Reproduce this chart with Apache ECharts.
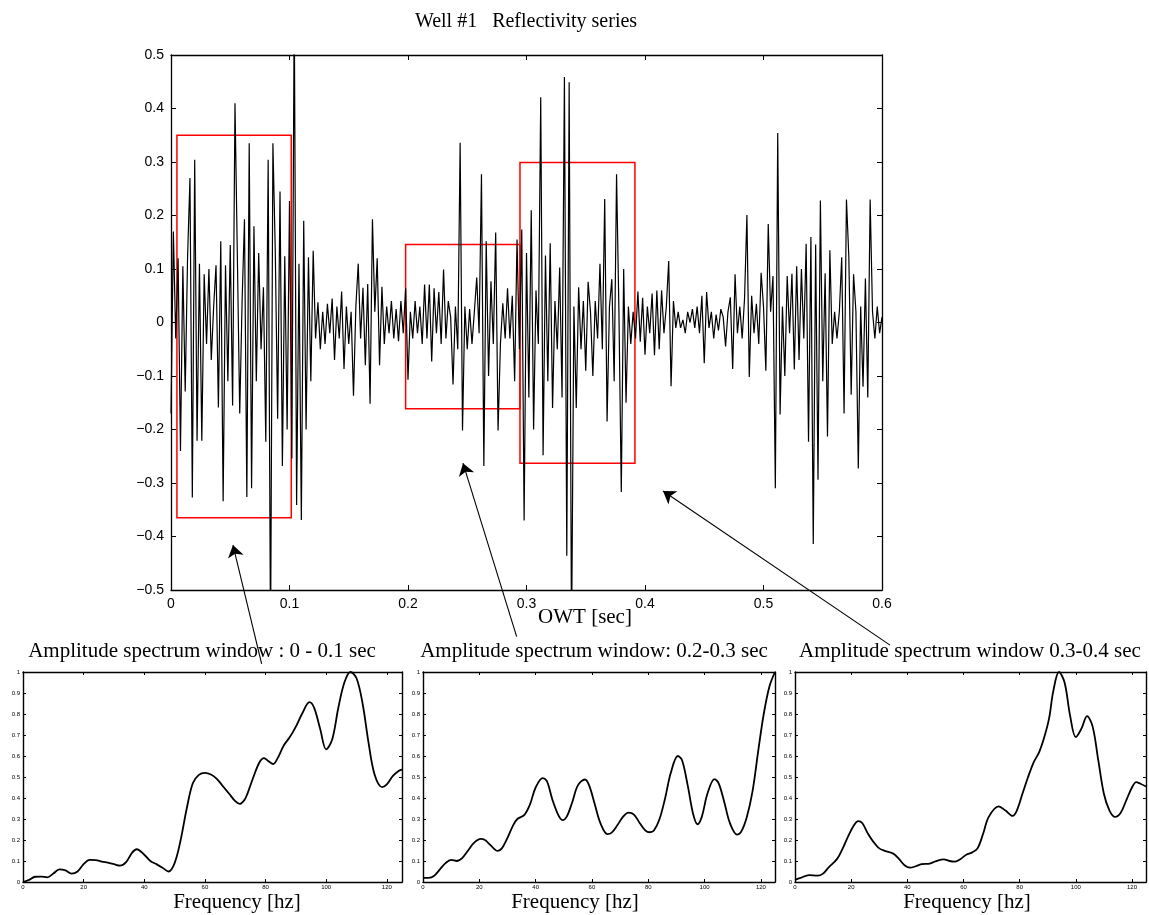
<!DOCTYPE html>
<html>
<head>
<meta charset="utf-8">
<title>Well #1 Reflectivity series</title>
<script src="https://cdn.jsdelivr.net/npm/echarts/dist/echarts.min.js"></script>
<style>
  html, body { margin: 0; padding: 0; background: #fff; }
  #main { width: 1149px; height: 915px; }
</style>
</head>
<body>
<div id="main"></div>
<script>
// reflectivity trace, one value every 2 ms from 0 to 0.6 s
var sampleStep = 0.002;
var reflectivity = [
  -0.17, 0.17, -0.03, 0.12, -0.24, 0.105, -0.129, 0.124, 0.27, -0.327,
  0.304, -0.221, 0.11, -0.221, 0.09, -0.04, 0.10, -0.07, 0.03, 0.107,
  -0.159, 0.152, -0.334, 0.107, -0.11, 0.145, -0.155, 0.41, 0.124, -0.17,
  0.04, 0.193, -0.326, 0.335, -0.31, 0.18, -0.11, 0.13, -0.05, 0.066,
  -0.223, 0.304, -0.6, 0.335, 0.133, -0.18, 0.245, -0.268, 0.124, -0.20,
  0.227, -0.254, 0.6, -0.341, 0.11, -0.369, 0.19, -0.20, 0.122, -0.11,
  0.134, -0.03, 0.038, -0.05, 0.02, -0.04, 0.035, -0.02, 0.045, -0.07,
  0.03, -0.03, 0.058, -0.087, 0.03, -0.04, 0.02, -0.137, 0.03, 0.11,
  -0.03, 0.065, -0.08, 0.072, -0.152, 0.193, 0.02, 0.12, -0.08, 0.067,
  -0.04, 0.03, -0.02, 0.04, -0.03, 0.025, -0.035, 0.04, -0.02, 0.064,
  -0.107, 0.02, -0.03, 0.04, -0.02, 0.03, -0.04, 0.071, -0.03, 0.071,
  -0.073, 0.064, -0.02, 0.057, -0.04, 0.099, -0.03, 0.04, 0.01, -0.116,
  0.03, -0.05, 0.336, -0.202, 0.03, -0.05, 0.025, -0.04, 0.02, 0.084,
  -0.02, 0.277, -0.268, 0.152, -0.10, 0.077, -0.04, 0.168, -0.202, -0.04,
  0.036, -0.03, 0.064, -0.03, 0.05, -0.11, 0.155, -0.05, 0.174, -0.37,
  0.13, -0.14, 0.21, -0.20, 0.06, -0.04, 0.421, -0.248, 0.125, -0.11,
  0.148, -0.16, 0.04, -0.05, 0.103, -0.14, 0.459, -0.436, 0.449, -0.6,
  0.03, -0.16, 0.066, -0.05, 0.04, -0.09, 0.076, 0.02, -0.10, 0.04,
  -0.03, 0.11, -0.05, 0.231, -0.185, 0.03, 0.081, -0.11, 0.277, 0.02,
  -0.317, 0.10, -0.15, 0.03, -0.04, 0.02, -0.03, 0.058, -0.036, 0.046,
  -0.06, 0.03, -0.02, 0.054, -0.061, 0.06, -0.05, 0.06, -0.02, 0.03,
  0.115, -0.119, 0.04, -0.01, 0.02, -0.01, 0.005, -0.02, 0.02, 0.0,
  0.025, -0.01, 0.03, -0.02, 0.05, -0.076, 0.057, -0.01, 0.02, -0.03,
  0.015, -0.015, 0.025, 0.01, -0.045, 0.02, 0.047, -0.087, 0.09, -0.02,
  0.03, -0.03, 0.045, 0.201, -0.102, 0.05, -0.02, 0.035, -0.04, 0.093,
  0.03, -0.09, 0.184, 0.02, 0.087, -0.31, 0.354, -0.172, 0.03, -0.10,
  0.087, -0.02, 0.091, -0.088, 0.105, -0.07, 0.10, -0.03, 0.147, -0.223,
  0.16, -0.414, 0.146, -0.294, 0.228, -0.11, 0.092, -0.213, 0.135, -0.04,
  0.02, -0.03, 0.02, 0.122, -0.17, 0.23, 0.124, -0.135, 0.09, 0.02,
  -0.273, 0.03, -0.12, 0.082, -0.14, 0.23, 0.02, -0.03, 0.03, -0.02,
  0.01
];

// analysis windows [t start, t end, low, high]
var windows = [
  [0.005, 0.1015, -0.365, 0.35],
  [0.198, 0.2945, -0.161, 0.146],
  [0.2945, 0.3915, -0.263, 0.299]
];

// arrows [tail t, tail amp, head t, head amp]
var arrows = [
  [0.0765, -0.638, 0.0523, -0.416],
  [0.2917, -0.587, 0.2464, -0.263],
  [0.6068, -0.603, 0.4152, -0.315]
];

// amplitude spectra
var freq1 = [0, 2, 4, 6, 8, 10, 12, 14, 16, 18, 20, 22, 24, 26, 28, 30, 32, 34, 36, 37.5,
  40, 42, 44, 46, 48, 50, 52, 54, 56, 58, 60, 62, 64, 66, 68, 70, 71.5, 73, 74, 76,
  78, 79.5, 81, 82.5, 84, 86, 88, 90, 92, 94.5, 96, 98, 100, 102, 104, 106, 108, 110,
  112, 114, 116, 118.5, 120, 122, 124, 125];
var amp1 = [0, 0.01, 0.025, 0.026, 0.022, 0.04, 0.06, 0.055, 0.04, 0.05, 0.085, 0.105, 0.104, 0.097, 0.092, 0.085, 0.078, 0.095, 0.14, 0.156,
  0.13, 0.1, 0.085, 0.068, 0.05, 0.09, 0.2, 0.35, 0.47, 0.51, 0.52, 0.512, 0.49, 0.455, 0.42, 0.385, 0.372, 0.39, 0.42, 0.5,
  0.57, 0.59, 0.575, 0.562, 0.59, 0.65, 0.69, 0.74, 0.8, 0.857, 0.83, 0.73, 0.632, 0.68, 0.83, 0.95, 1.0, 0.97,
  0.85, 0.66, 0.51, 0.452, 0.465, 0.505, 0.53, 0.535];

var freq2 = [0, 2, 4, 6, 8, 10, 12, 14, 16, 18, 20.5, 22, 24, 26.5, 28, 30, 32, 33.5, 36, 38,
  40, 42.5, 44, 46, 48, 49.5, 51, 53, 55, 57.5, 59, 61, 63, 65.5, 67, 69, 71, 73, 75, 77,
  79, 80.5, 82, 84, 86, 88, 90.5, 92, 94, 96, 97.5, 99, 101, 103.5, 105, 107, 109, 111.5,
  113, 115, 117, 119, 121, 123, 125];
var amp2 = [0.02, 0.02, 0.03, 0.06, 0.09, 0.105, 0.10, 0.115, 0.15, 0.185, 0.205, 0.2, 0.175, 0.148, 0.16, 0.21, 0.27, 0.30, 0.32, 0.37,
  0.45, 0.495, 0.48, 0.39, 0.32, 0.295, 0.31, 0.38, 0.46, 0.488, 0.46, 0.37, 0.28, 0.228, 0.235, 0.27, 0.31, 0.33, 0.32, 0.28,
  0.245, 0.237, 0.245, 0.3, 0.4, 0.52, 0.6, 0.58, 0.46, 0.32, 0.275, 0.31, 0.42, 0.49, 0.47, 0.38, 0.28, 0.226,
  0.24, 0.31, 0.43, 0.62, 0.8, 0.93, 1.0];

var freq3 = [0, 2, 5, 8, 10, 12, 15, 17, 19, 21, 22.5, 24, 26, 28, 30, 32, 35, 37, 39, 41,
  43, 45, 48, 50, 53, 55, 57, 59, 61, 63, 65, 67, 69, 72.5, 75, 77.5, 79, 81, 83, 85,
  87, 89, 90.5, 92, 94, 96, 98, 100, 102, 104, 106, 108, 110, 112, 114, 116, 118,
  120, 121.5, 123, 125];
var amp3 = [0.01, 0.02, 0.033, 0.03, 0.04, 0.07, 0.11, 0.16, 0.22, 0.27, 0.29, 0.28, 0.23, 0.19, 0.16, 0.148, 0.135, 0.11, 0.08, 0.068,
  0.075, 0.085, 0.088, 0.098, 0.108, 0.10, 0.097, 0.11, 0.13, 0.14, 0.16, 0.23, 0.31, 0.36, 0.34, 0.315, 0.34, 0.42, 0.5, 0.57,
  0.62, 0.7, 0.78, 0.91, 1.0, 0.95, 0.79, 0.69, 0.73, 0.79, 0.74, 0.58, 0.42, 0.34, 0.31, 0.33, 0.39,
  0.45, 0.476, 0.468, 0.455];

var spectra = [[freq1, amp1], [freq2, amp2], [freq3, amp3]];

var serif = '"Liberation Serif", "Times New Roman", serif';
var sans = '"Liberation Sans", Arial, Helvetica, sans-serif';

function toPairs(xs, ys) {
  var res = [];
  for (var i = 0; i < xs.length; i++) {
    res.push([xs[i], ys[i]]);
  }
  return res;
}

function tickLabel(v) {
  var s = String(Math.round(v * 10) / 10);
  return s.replace('-', '\u2212');
}

var traceData = reflectivity.map(function (v, i) {
  return [+(i * sampleStep).toFixed(3), v];
});

var grids = [
  { left: 171, top: 55, width: 711, height: 535, outerBoundsMode: 'none' },
  { left: 23, top: 672, width: 379, height: 210, outerBoundsMode: 'none' },
  { left: 423, top: 672, width: 352, height: 210, outerBoundsMode: 'none' },
  { left: 795, top: 672, width: 351, height: 210, outerBoundsMode: 'none' }
];

function makeAxis(gridIndex, pos, min, max, step, small) {
  var isMirror = (pos === 'top' || pos === 'right');
  return {
    type: 'value',
    gridIndex: gridIndex,
    position: pos,
    min: min,
    max: max,
    interval: step,
    axisLine: { onZero: false, lineStyle: { color: '#000', width: small ? 1.4 : 1.3 } },
    axisTick: { inside: true, length: small ? 3 : 5, lineStyle: { color: '#000', width: 1 } },
    axisLabel: {
      show: !isMirror,
      color: '#000',
      fontFamily: sans,
      fontSize: small ? 6 : 14,
      margin: small ? 3 : 7,
      showMaxLabel: true,
      formatter: tickLabel
    },
    splitLine: { show: false }
  };
}

var xAxes = [
  makeAxis(0, 'bottom', 0, 0.6, 0.1, false),
  makeAxis(0, 'top', 0, 0.6, 0.1, false)
];
var yAxes = [
  makeAxis(0, 'left', -0.5, 0.5, 0.1, false),
  makeAxis(0, 'right', -0.5, 0.5, 0.1, false)
];
for (var g = 1; g <= 3; g++) {
  var xb = makeAxis(g, 'bottom', 0, 125, 20, true);
  xb.axisLabel.showMaxLabel = false;
  xb.axisLabel.margin = 2;
  xb.axisLabel.formatter = '{value}';
  xAxes.push(xb);
  xAxes.push(makeAxis(g, 'top', 0, 125, 20, true));
  yAxes.push(makeAxis(g, 'left', 0, 1, 0.1, true));
  yAxes.push(makeAxis(g, 'right', 0, 1, 0.1, true));
}

var series = [{
  name: 'reflectivity',
  type: 'line',
  xAxisIndex: 0,
  yAxisIndex: 0,
  data: traceData,
  showSymbol: false,
  clip: true,
  lineStyle: { color: '#000', width: 1.2 },
  markArea: {
    silent: true,
    itemStyle: { color: 'rgba(0,0,0,0)', borderColor: '#ff0000', borderWidth: 1.5 },
    data: windows.map(function (w) {
      return [{ coord: [w[0], w[3]] }, { coord: [w[1], w[2]] }];
    })
  }
}, {
  name: 'arrows',
  type: 'lines',
  coordinateSystem: 'cartesian2d',
  xAxisIndex: 0,
  yAxisIndex: 0,
  clip: false,
  silent: true,
  z: 10,
  symbol: ['none', 'arrow'],
  symbolSize: 12,
  lineStyle: { color: '#000', width: 1.1, opacity: 1, curveness: 0 },
  data: arrows.map(function (a) {
    return { coords: [[a[0], a[1]], [a[2], a[3]]] };
  })
}];

for (var k = 0; k < spectra.length; k++) {
  series.push({
    name: 'spectrum' + (k + 1),
    type: 'line',
    xAxisIndex: 2 + k * 2,
    yAxisIndex: 2 + k * 2,
    data: toPairs(spectra[k][0], spectra[k][1]),
    smooth: 0.35,
    showSymbol: false,
    clip: true,
    lineStyle: { color: '#000', width: 1.8 }
  });
}

function label(text, x, y, size) {
  return {
    type: 'text',
    x: x,
    y: y,
    silent: true,
    style: {
      text: text,
      fill: '#000',
      font: size + 'px ' + serif,
      align: 'center',
      verticalAlign: 'middle'
    }
  };
}

var option = {
  backgroundColor: '#fff',
  animation: false,
  grid: grids,
  xAxis: xAxes,
  yAxis: yAxes,
  series: series,
  graphic: [
    label('Well #1   Reflectivity series', 526, 22, 20),
    label('OWT [sec]', 585, 617, 21),
    label('Amplitude spectrum window : 0 - 0.1 sec', 202, 651, 21),
    label('Amplitude spectrum window: 0.2-0.3 sec', 594, 651, 21),
    label('Amplitude spectrum window 0.3-0.4 sec', 970, 651, 21),
    label('Frequency [hz]', 237, 902, 21),
    label('Frequency [hz]', 575, 902, 21),
    label('Frequency [hz]', 967, 902, 21)
  ]
};

var chart = echarts.init(document.getElementById('main'));
chart.setOption(option);
</script>
</body>
</html>
